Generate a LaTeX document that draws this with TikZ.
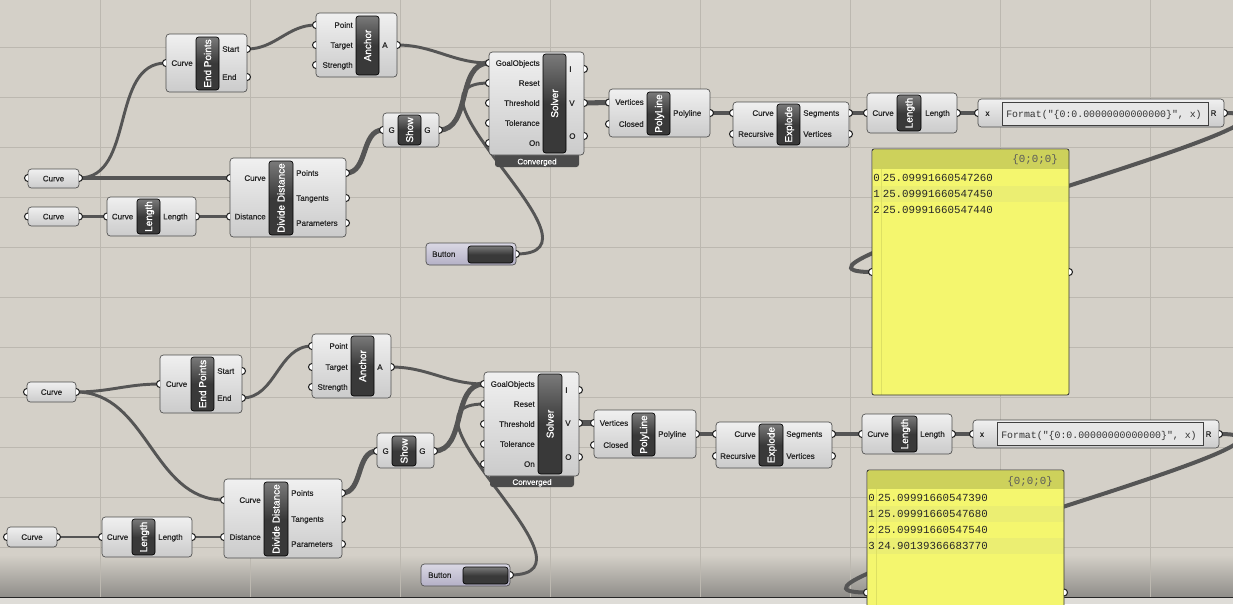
\documentclass[tikz,border=0pt]{standalone}
\usepackage{fontspec}
\usepackage{tikz}
\usepackage{color}
\setmainfont{Liberation Sans}
\newfontfamily\portfont{Liberation Sans}[RawFeature={embolden=0.6}]
\newfontfamily\barfont{Liberation Sans}[RawFeature={embolden=1.2}]
\newfontfamily\monofont{Liberation Mono}
\definecolor{canvas}{HTML}{D4D0C8}
\definecolor{gridcol}{HTML}{BCB8B0}
\definecolor{shadecol}{HTML}{8E8C88}
\definecolor{stripcol}{HTML}{DEDCD7}
\definecolor{wirecol}{HTML}{555555}
\definecolor{bodytop}{HTML}{F0F0F0}
\definecolor{bodybot}{HTML}{CBCBCB}
\definecolor{bodyline}{HTML}{4E4E4E}
\definecolor{bartop}{HTML}{7A7A7A}
\definecolor{barbot}{HTML}{393939}
\definecolor{tabcol}{HTML}{4B4B4B}
\definecolor{btntop}{HTML}{DAD8E4}
\definecolor{btnbot}{HTML}{B4B0C6}
\definecolor{exprfill}{HTML}{E6E6E6}
\definecolor{panelcol}{HTML}{F4F66E}
\definecolor{panelhead}{HTML}{CDD15B}
\definecolor{panelband}{HTML}{EBEE72}
\pgfdeclarelayer{back}
\pgfdeclarelayer{wires}
\pgfsetlayers{back,wires,main}

\begin{document}
\begin{tikzpicture}[x=0.75pt,y=0.75pt,yscale=-1,xscale=1,
  comp/.style={draw=bodyline,line width=0.5,rounded corners=2.5,top color=bodytop,bottom color=bodybot},
  bar/.style={draw=black,line width=0.5,rounded corners=2,top color=bartop,bottom color=barbot,middle color=barbot},
  btn/.style={draw=bodyline,line width=0.5,rounded corners=2.5,top color=btntop,bottom color=btnbot},
  barlbl/.style={rotate=90,text=white,inner sep=0,text height=5.4pt,text depth=0pt,font=\fontsize{7.5}{8}\barfont},
  plbl/.style={inner sep=0,text=black!85,text height=4.3pt,text depth=0pt,font=\fontsize{6}{7}\portfont},
  mono/.style={inner sep=0,text=black!85,text height=5.3pt,text depth=0pt,font=\fontsize{8.1}{9}\monofont},
  grip/.style={draw=black!85,fill=white,line width=0.8},
  wire/.style={draw=wirecol,line width=2.2},
  listwire/.style={wire,line width=3},
  fatwire/.style={wire,line width=3.8},
  panelsep/.style={draw=panelhead!60!panelcol,line width=0.6}]
\path [use as bounding box] (0,0) rectangle (1233,604);

\begin{pgfonlayer}{back}
%Shape: Canvas
\fill [canvas] (0,0) rectangle (1233,604);
\shade [top color=canvas,bottom color=shadecol] (0,555) rectangle (1233,597.5);
%Shape: Grid
\draw [gridcol,line width=0.75] (100,0) -- (100,597) (250,0) -- (250,597) (400,0) -- (400,597) (550,0) -- (550,597)
  (700,0) -- (700,597) (850,0) -- (850,597) (1000,0) -- (1000,597) (1150,0) -- (1150,597);
\draw [gridcol,line width=0.75] (0,47) -- (1233,47) (0,97) -- (1233,97) (0,147) -- (1233,147) (0,197) -- (1233,197)
  (0,247) -- (1233,247) (0,297) -- (1233,297) (0,347) -- (1233,347) (0,397) -- (1233,397)
  (0,447) -- (1233,447) (0,497) -- (1233,497) (0,547) -- (1233,547);
\fill [stripcol] (0,597.5) rectangle (1233,604);
\draw [black!85,line width=0.9] (0,597.5) -- (1233,597.5);
\end{pgfonlayer}

%%%%%%%%%%%%%%%% upper definition %%%%%%%%%%%%%%%%

%Shape: Curve parameter
\draw [comp] (28,169) rectangle (79,188);
\node [plbl] (cA1) at (53.5,178.5) {Curve};
\path (28,178) coordinate (cA1-i) (79,178) coordinate (cA1-o);
\draw [grip] (cA1-i) +(0,3.5) arc (90:270:3.5) (cA1-o) +(0,-3.5) arc (-90:90:3.5);

%Shape: Curve parameter
\draw [comp] (28,207) rectangle (79,226);
\node [plbl] (cA2) at (53.5,216.5) {Curve};
\path (28,216.5) coordinate (cA2-i) (79,216.5) coordinate (cA2-o);
\draw [grip] (cA2-i) +(0,3.5) arc (90:270:3.5) (cA2-o) +(0,-3.5) arc (-90:90:3.5);

%Shape: Length
\draw [comp] (107,197) rectangle (196,236);
\draw [bar] (137,199) rectangle (160,234);
\node [barlbl] (lenA) at (148.5,216.5) {Length};
\node [plbl,anchor=east] (lenA-cl) at (133.5,216.5) {Curve};
\node [plbl,anchor=west] (lenA-ll) at (163,216.5) {Length};
\path (107,216.5) coordinate (lenA-c) (196,216.5) coordinate (lenA-o);
\draw [grip] (lenA-c) +(0,3.5) arc (90:270:3.5) (lenA-o) +(0,-3.5) arc (-90:90:3.5);

%Shape: Divide Distance
\draw [comp] (230,158) rectangle (346,237);
\draw [bar] (269,161) rectangle (293,235);
\node [barlbl] (ddA) at (281,198) {Divide Distance};
\node [plbl,anchor=east] (ddA-cl) at (266,178) {Curve};
\node [plbl,anchor=east] (ddA-dl) at (266,216.5) {Distance};
\node [plbl,anchor=west] (ddA-pl) at (296,173) {Points};
\node [plbl,anchor=west] (ddA-tl) at (296,198) {Tangents};
\node [plbl,anchor=west] (ddA-rl) at (296,223) {Parameters};
\path (230,178) coordinate (ddA-c) (230,216.5) coordinate (ddA-d) (346,173) coordinate (ddA-p)
  (346,198) coordinate (ddA-t) (346,223) coordinate (ddA-r);
\draw [grip] (ddA-c) +(0,3.5) arc (90:270:3.5) (ddA-d) +(0,3.5) arc (90:270:3.5)
  (ddA-p) +(0,-3.5) arc (-90:90:3.5) (ddA-t) +(0,-3.5) arc (-90:90:3.5) (ddA-r) +(0,-3.5) arc (-90:90:3.5);

%Shape: End Points
\draw [comp] (166,34) rectangle (247,92);
\draw [bar] (196,37) rectangle (219,90);
\node [barlbl] (epA) at (207.5,63.5) {End Points};
\node [plbl,anchor=east] (epA-cl) at (193,63) {Curve};
\node [plbl,anchor=west] (epA-sl) at (222,49) {Start};
\node [plbl,anchor=west] (epA-el) at (222,77) {End};
\path (166,63) coordinate (epA-c) (247,49) coordinate (epA-s) (247,77) coordinate (epA-e);
\draw [grip] (epA-c) +(0,3.5) arc (90:270:3.5) (epA-s) +(0,-3.5) arc (-90:90:3.5) (epA-e) +(0,-3.5) arc (-90:90:3.5);

%Shape: Anchor
\draw [comp] (316,13) rectangle (397,77);
\draw [bar] (356,16) rectangle (379,75);
\node [barlbl] (anA) at (367.5,45.5) {Anchor};
\node [plbl,anchor=east] (anA-pl) at (353,25) {Point};
\node [plbl,anchor=east] (anA-tl) at (353,45) {Target};
\node [plbl,anchor=east] (anA-sl) at (353,65) {Strength};
\node [plbl,anchor=west] (anA-al) at (382,45) {A};
\path (316,25) coordinate (anA-p) (316,45) coordinate (anA-t) (316,65) coordinate (anA-s) (397,45) coordinate (anA-a);
\draw [grip] (anA-p) +(0,3.5) arc (90:270:3.5) (anA-t) +(0,3.5) arc (90:270:3.5) (anA-s) +(0,3.5) arc (90:270:3.5)
  (anA-a) +(0,-3.5) arc (-90:90:3.5);

%Shape: Show
\draw [comp] (383,113) rectangle (439,147);
\draw [bar] (398,115) rectangle (421,145);
\node [barlbl] (shA) at (409.5,130) {Show};
\node [plbl,anchor=east] (shA-il) at (395,130) {G};
\node [plbl,anchor=west] (shA-ol) at (424,130) {G};
\path (383,130) coordinate (shA-i) (439,130) coordinate (shA-o);
\draw [grip] (shA-i) +(0,3.5) arc (90:270:3.5) (shA-o) +(0,-3.5) arc (-90:90:3.5);

%Shape: Solver
\fill [tabcol,rounded corners=2] (495,150) rectangle (579,167);
\node [plbl,text=white] (soA-cv) at (537,161.5) {Converged};
\draw [comp] (489,52) rectangle (584,155);
\draw [bar] (543,54) rectangle (566,153);
\node [barlbl] (soA) at (554.5,103.5) {Solver};
\node [plbl,anchor=east] (soA-gl) at (540,63) {GoalObjects};
\node [plbl,anchor=east] (soA-rl) at (540,83) {Reset};
\node [plbl,anchor=east] (soA-hl) at (540,103) {Threshold};
\node [plbl,anchor=east] (soA-tl) at (540,123) {Tolerance};
\node [plbl,anchor=east] (soA-nl) at (540,143) {On};
\node [plbl,anchor=west] (soA-il) at (569,69) {I};
\node [plbl,anchor=west] (soA-vl) at (569,103) {V};
\node [plbl,anchor=west] (soA-ol) at (569,136) {O};
\path (489,63) coordinate (soA-g) (489,83) coordinate (soA-r) (489,103) coordinate (soA-h) (489,123) coordinate (soA-t)
  (489,143) coordinate (soA-n) (584,69) coordinate (soA-i) (584,103) coordinate (soA-v) (584,136) coordinate (soA-o);
\draw [grip] (soA-g) +(0,3.5) arc (90:270:3.5) (soA-r) +(0,3.5) arc (90:270:3.5) (soA-h) +(0,3.5) arc (90:270:3.5)
  (soA-t) +(0,3.5) arc (90:270:3.5) (soA-n) +(0,3.5) arc (90:270:3.5)
  (soA-i) +(0,-3.5) arc (-90:90:3.5) (soA-v) +(0,-3.5) arc (-90:90:3.5) (soA-o) +(0,-3.5) arc (-90:90:3.5);

%Shape: Button
\draw [btn] (426,243) rectangle (516,265);
\draw [bar] (468,246) rectangle (513,263);
\node [plbl,anchor=west] (btA) at (432,254) {Button};
\path (516,254) coordinate (btA-o);
\draw [grip] (btA-o) +(0,-3.5) arc (-90:90:3.5);

%Shape: PolyLine
\draw [comp] (609,89) rectangle (710,137);
\draw [bar] (647,92) rectangle (670,135);
\node [barlbl] (plA) at (658.5,113.5) {PolyLine};
\node [plbl,anchor=east] (plA-vl) at (644,102) {Vertices};
\node [plbl,anchor=east] (plA-cl) at (644,124) {Closed};
\node [plbl,anchor=west] (plA-ol) at (673,113) {Polyline};
\path (609,102.5) coordinate (plA-v) (609,124) coordinate (plA-c) (710,113) coordinate (plA-o);
\draw [grip] (plA-v) +(0,3.5) arc (90:270:3.5) (plA-c) +(0,3.5) arc (90:270:3.5) (plA-o) +(0,-3.5) arc (-90:90:3.5);

%Shape: Explode
\draw [comp] (733,102) rectangle (849,147);
\draw [bar] (777,104) rectangle (800,145);
\node [barlbl] (exA) at (788.5,124.5) {Explode};
\node [plbl,anchor=east] (exA-cl) at (774,113) {Curve};
\node [plbl,anchor=east] (exA-rl) at (774,134) {Recursive};
\node [plbl,anchor=west] (exA-sl) at (803,113) {Segments};
\node [plbl,anchor=west] (exA-vl) at (803,134) {Vertices};
\path (733,113) coordinate (exA-c) (733,134) coordinate (exA-r) (849,113) coordinate (exA-s) (849,134) coordinate (exA-v);
\draw [grip] (exA-c) +(0,3.5) arc (90:270:3.5) (exA-r) +(0,3.5) arc (90:270:3.5)
  (exA-s) +(0,-3.5) arc (-90:90:3.5) (exA-v) +(0,-3.5) arc (-90:90:3.5);

%Shape: Length
\draw [comp] (867,93) rectangle (957,133);
\draw [bar] (897,95) rectangle (921,131);
\node [barlbl] (slA) at (909,113) {Length};
\node [plbl,anchor=east] (slA-cl) at (894,113) {Curve};
\node [plbl,anchor=west] (slA-ll) at (925,113) {Length};
\path (867,113) coordinate (slA-c) (957,113) coordinate (slA-o);
\draw [grip] (slA-c) +(0,3.5) arc (90:270:3.5) (slA-o) +(0,-3.5) arc (-90:90:3.5);

%Shape: Expression
\draw [comp] (978,99) rectangle (1224,127);
\draw [draw=black!75,fill=exprfill,line width=0.6] (1002,102) rectangle (1208,125);
\node [plbl] (xA-xl) at (987.5,113) {x};
\node [plbl] (xA-rl) at (1213.5,113) {R};
\node [mono,font=\fontsize{7.4}{8}\monofont,text=black!80] (xA) at (1104,113.5) {Format("\{0:0.00000000000000\}", x)};
\path (978,113) coordinate (xA-i) (1224,113) coordinate (xA-o);
\draw [grip] (xA-i) +(0,3.5) arc (90:270:3.5) (xA-o) +(0,-3.5) arc (-90:90:3.5);

%Shape: Panel
\fill [panelcol,rounded corners=1.5] (872,149) rectangle (1069,395);
\fill [panelhead] (872.5,149.5) rectangle (1068.5,169);
\fill [panelband] (873,186) rectangle (1068.5,201.5);
\draw [panelsep] (881,169) -- (881,394.5);
\draw [black!80,line width=0.6,rounded corners=1.5] (872,149) rectangle (1069,395);
\node [mono,text=black!65,anchor=east] (pnA-h) at (1058,159) {\{0;0;0\}};
\node [mono] (pnA-n0) at (876.5,178) {0};
\node [mono] (pnA-n1) at (876.5,194) {1};
\node [mono] (pnA-n2) at (876.5,209.5) {2};
\node [mono,anchor=west] (pnA-v0) at (882.5,178) {25.09991660547260};
\node [mono,anchor=west] (pnA-v1) at (882.5,194) {25.09991660547450};
\node [mono,anchor=west] (pnA-v2) at (882.5,209.5) {25.09991660547440};
\path (872,272) coordinate (pnA-i) (1069,272) coordinate (pnA-o);
\draw [grip] (pnA-i) +(0,3.5) arc (90:270:3.5) (pnA-o) +(0,-3.5) arc (-90:90:3.5);

%%%%%%%%%%%%%%%% lower definition %%%%%%%%%%%%%%%%

%Shape: Curve parameter
\draw [comp] (27,382) rectangle (76,402);
\node [plbl] (cB1) at (51.5,392) {Curve};
\path (27,392) coordinate (cB1-i) (76,392) coordinate (cB1-o);
\draw [grip] (cB1-i) +(0,3.5) arc (90:270:3.5) (cB1-o) +(0,-3.5) arc (-90:90:3.5);

%Shape: Curve parameter
\draw [comp] (7,527) rectangle (57,547);
\node [plbl] (cB2) at (32,537) {Curve};
\path (7,537) coordinate (cB2-i) (57,537) coordinate (cB2-o);
\draw [grip] (cB2-i) +(0,3.5) arc (90:270:3.5) (cB2-o) +(0,-3.5) arc (-90:90:3.5);

%Shape: Length
\draw [comp] (102,517) rectangle (192,557);
\draw [bar] (132,519) rectangle (155,555);
\node [barlbl] (lenB) at (143.5,537) {Length};
\node [plbl,anchor=east] (lenB-cl) at (128.5,537) {Curve};
\node [plbl,anchor=west] (lenB-ll) at (158,537) {Length};
\path (102,537) coordinate (lenB-c) (192,537) coordinate (lenB-o);
\draw [grip] (lenB-c) +(0,3.5) arc (90:270:3.5) (lenB-o) +(0,-3.5) arc (-90:90:3.5);

%Shape: Divide Distance
\draw [comp] (224,479) rectangle (342,558);
\draw [bar] (264,482) rectangle (288,556);
\node [barlbl] (ddB) at (276,519) {Divide Distance};
\node [plbl,anchor=east] (ddB-cl) at (261,500) {Curve};
\node [plbl,anchor=east] (ddB-dl) at (261,537) {Distance};
\node [plbl,anchor=west] (ddB-pl) at (291,493) {Points};
\node [plbl,anchor=west] (ddB-tl) at (291,519) {Tangents};
\node [plbl,anchor=west] (ddB-rl) at (291,544) {Parameters};
\path (224,500) coordinate (ddB-c) (224,537) coordinate (ddB-d) (342,493) coordinate (ddB-p)
  (342,519) coordinate (ddB-t) (342,544) coordinate (ddB-r);
\draw [grip] (ddB-c) +(0,3.5) arc (90:270:3.5) (ddB-d) +(0,3.5) arc (90:270:3.5)
  (ddB-p) +(0,-3.5) arc (-90:90:3.5) (ddB-t) +(0,-3.5) arc (-90:90:3.5) (ddB-r) +(0,-3.5) arc (-90:90:3.5);

%Shape: End Points
\draw [comp] (160,355) rectangle (242,413);
\draw [bar] (191,357) rectangle (214,411);
\node [barlbl] (epB) at (202.5,384) {End Points};
\node [plbl,anchor=east] (epB-cl) at (187.5,384) {Curve};
\node [plbl,anchor=west] (epB-sl) at (217,371) {Start};
\node [plbl,anchor=west] (epB-el) at (217,398) {End};
\path (160,384) coordinate (epB-c) (242,371) coordinate (epB-s) (242,398) coordinate (epB-e);
\draw [grip] (epB-c) +(0,3.5) arc (90:270:3.5) (epB-s) +(0,-3.5) arc (-90:90:3.5) (epB-e) +(0,-3.5) arc (-90:90:3.5);

%Shape: Anchor
\draw [comp] (312,334) rectangle (391,398);
\draw [bar] (351,336) rectangle (374,396);
\node [barlbl] (anB) at (362.5,366) {Anchor};
\node [plbl,anchor=east] (anB-pl) at (348,346) {Point};
\node [plbl,anchor=east] (anB-tl) at (348,367) {Target};
\node [plbl,anchor=east] (anB-sl) at (348,387) {Strength};
\node [plbl,anchor=west] (anB-al) at (377,367) {A};
\path (312,346) coordinate (anB-p) (312,367) coordinate (anB-t) (312,387) coordinate (anB-s) (391,367) coordinate (anB-a);
\draw [grip] (anB-p) +(0,3.5) arc (90:270:3.5) (anB-t) +(0,3.5) arc (90:270:3.5) (anB-s) +(0,3.5) arc (90:270:3.5)
  (anB-a) +(0,-3.5) arc (-90:90:3.5);

%Shape: Show
\draw [comp] (377,433) rectangle (434,468);
\draw [bar] (392,436) rectangle (416,466);
\node [barlbl] (shB) at (404,451) {Show};
\node [plbl,anchor=east] (shB-il) at (389,451) {G};
\node [plbl,anchor=west] (shB-ol) at (419,451) {G};
\path (377,451) coordinate (shB-i) (434,451) coordinate (shB-o);
\draw [grip] (shB-i) +(0,3.5) arc (90:270:3.5) (shB-o) +(0,-3.5) arc (-90:90:3.5);

%Shape: Solver
\fill [tabcol,rounded corners=2] (490,471) rectangle (574,487);
\node [plbl,text=white] (soB-cv) at (532,482) {Converged};
\draw [comp] (484,372) rectangle (579,476);
\draw [bar] (538,374) rectangle (562,474);
\node [barlbl] (soB) at (550,424) {Solver};
\node [plbl,anchor=east] (soB-gl) at (535,384) {GoalObjects};
\node [plbl,anchor=east] (soB-rl) at (535,404) {Reset};
\node [plbl,anchor=east] (soB-hl) at (535,424) {Threshold};
\node [plbl,anchor=east] (soB-tl) at (535,444) {Tolerance};
\node [plbl,anchor=east] (soB-nl) at (535,464) {On};
\node [plbl,anchor=west] (soB-il) at (565,390) {I};
\node [plbl,anchor=west] (soB-vl) at (565,423) {V};
\node [plbl,anchor=west] (soB-ol) at (565,457) {O};
\path (484,384) coordinate (soB-g) (484,404) coordinate (soB-r) (484,424) coordinate (soB-h) (484,444) coordinate (soB-t)
  (484,464) coordinate (soB-n) (579,390) coordinate (soB-i) (579,423) coordinate (soB-v) (579,457) coordinate (soB-o);
\draw [grip] (soB-g) +(0,3.5) arc (90:270:3.5) (soB-r) +(0,3.5) arc (90:270:3.5) (soB-h) +(0,3.5) arc (90:270:3.5)
  (soB-t) +(0,3.5) arc (90:270:3.5) (soB-n) +(0,3.5) arc (90:270:3.5)
  (soB-i) +(0,-3.5) arc (-90:90:3.5) (soB-v) +(0,-3.5) arc (-90:90:3.5) (soB-o) +(0,-3.5) arc (-90:90:3.5);

%Shape: Button
\draw [btn] (421,564) rectangle (510,586);
\draw [bar] (463,567) rectangle (508,584);
\node [plbl,anchor=west] (btB) at (428,575) {Button};
\path (510,575) coordinate (btB-o);
\draw [grip] (btB-o) +(0,-3.5) arc (-90:90:3.5);

%Shape: PolyLine
\draw [comp] (594,410) rectangle (696,458);
\draw [bar] (632,413) rectangle (655,456);
\node [barlbl] (plB) at (643.5,434.5) {PolyLine};
\node [plbl,anchor=east] (plB-vl) at (628.5,423) {Vertices};
\node [plbl,anchor=east] (plB-cl) at (628.5,445) {Closed};
\node [plbl,anchor=west] (plB-ol) at (658,434) {Polyline};
\path (594,423) coordinate (plB-v) (594,445) coordinate (plB-c) (696,434) coordinate (plB-o);
\draw [grip] (plB-v) +(0,3.5) arc (90:270:3.5) (plB-c) +(0,3.5) arc (90:270:3.5) (plB-o) +(0,-3.5) arc (-90:90:3.5);

%Shape: Explode
\draw [comp] (716,422) rectangle (832,468);
\draw [bar] (759,424) rectangle (783,466);
\node [barlbl] (exB) at (771,445) {Explode};
\node [plbl,anchor=east] (exB-cl) at (756,434) {Curve};
\node [plbl,anchor=east] (exB-rl) at (756,456) {Recursive};
\node [plbl,anchor=west] (exB-sl) at (786,434) {Segments};
\node [plbl,anchor=west] (exB-vl) at (786,456) {Vertices};
\path (716,434) coordinate (exB-c) (716,456) coordinate (exB-r) (832,434) coordinate (exB-s) (832,456) coordinate (exB-v);
\draw [grip] (exB-c) +(0,3.5) arc (90:270:3.5) (exB-r) +(0,3.5) arc (90:270:3.5)
  (exB-s) +(0,-3.5) arc (-90:90:3.5) (exB-v) +(0,-3.5) arc (-90:90:3.5);

%Shape: Length
\draw [comp] (862,414) rectangle (952,454);
\draw [bar] (892,416) rectangle (917,452);
\node [barlbl] (slB) at (904.5,434) {Length};
\node [plbl,anchor=east] (slB-cl) at (889,434) {Curve};
\node [plbl,anchor=west] (slB-ll) at (920,434) {Length};
\path (862,434) coordinate (slB-c) (952,434) coordinate (slB-o);
\draw [grip] (slB-c) +(0,3.5) arc (90:270:3.5) (slB-o) +(0,-3.5) arc (-90:90:3.5);

%Shape: Expression
\draw [comp] (973,420) rectangle (1219,448);
\draw [draw=black!75,fill=exprfill,line width=0.6] (997,422.5) rectangle (1203,445.5);
\node [plbl] (xB-xl) at (982,434) {x};
\node [plbl] (xB-rl) at (1208.5,434) {R};
\node [mono,font=\fontsize{7.4}{8}\monofont,text=black!80] (xB) at (1099,434.5) {Format("\{0:0.00000000000000\}", x)};
\path (973,434) coordinate (xB-i) (1219,434) coordinate (xB-o);
\draw [grip] (xB-i) +(0,3.5) arc (90:270:3.5) (xB-o) +(0,-3.5) arc (-90:90:3.5);

%Shape: Panel
\fill [panelcol,rounded corners=1.5] (867,470) rectangle (1064,612);
\fill [panelhead] (867.5,470.5) rectangle (1063.5,489);
\fill [panelband] (868,506) rectangle (1063.5,522);
\fill [panelband] (868,538) rectangle (1063.5,554);
\draw [panelsep] (876.5,489) -- (876.5,612);
\draw [black!80,line width=0.6,rounded corners=1.5] (867,470) rectangle (1064,612);
\node [mono,text=black!65,anchor=east] (pnB-h) at (1053,480.5) {\{0;0;0\}};
\node [mono] (pnB-n0) at (871.5,498) {0};
\node [mono] (pnB-n1) at (871.5,514) {1};
\node [mono] (pnB-n2) at (871.5,530) {2};
\node [mono] (pnB-n3) at (871.5,546) {3};
\node [mono,anchor=west] (pnB-v0) at (877.5,498) {25.09991660547390};
\node [mono,anchor=west] (pnB-v1) at (877.5,514) {25.09991660547680};
\node [mono,anchor=west] (pnB-v2) at (877.5,530) {25.09991660547540};
\node [mono,anchor=west] (pnB-v3) at (877.5,546) {24.90139366683770};
\path (867,592.5) coordinate (pnB-i) (1064,592.5) coordinate (pnB-o);
\draw [grip] (pnB-i) +(0,3.5) arc (90:270:3.5) (pnB-o) +(0,-3.5) arc (-90:90:3.5);

%%%%%%%%%%%%%%%% wires %%%%%%%%%%%%%%%%
\begin{pgfonlayer}{wires}
\draw [wire] (cA1-o) to[out=0,in=180] (epA-c);
\draw [listwire] (cA1-o) -- (ddA-c);
\draw [wire] (cA2-o) -- (lenA-c);
\draw [wire] (lenA-o) -- (ddA-d);
\draw [wire] (epA-s) to[out=0,in=180] (anA-p);
\draw [wire] (anA-a) to[out=0,in=180] (soA-g);
\draw [fatwire] (ddA-p) to[out=0,in=180] (shA-i);
\draw [fatwire] (shA-o) to[out=0,in=180] (soA-g);
\draw [wire] (btA-o) to[out=0,in=180,looseness=1.5] (soA-r);
\draw [fatwire] (soA-v) -- (plA-v);
\draw [listwire] (plA-o) -- (exA-c);
\draw [listwire] (exA-s) -- (slA-c);
\draw [listwire] (slA-o) -- (xA-i);
\draw [listwire] (xA-o) to[out=0,in=180,looseness=0.95] (pnA-i);

\draw [wire] (cB1-o) to[out=0,in=180] (epB-c);
\draw [wire] (cB1-o) to[out=0,in=180] (ddB-c);
\draw [wire] (cB2-o) -- (lenB-c);
\draw [wire] (lenB-o) -- (ddB-d);
\draw [wire] (epB-e) to[out=0,in=180] (anB-p);
\draw [wire] (anB-a) to[out=0,in=180] (soB-g);
\draw [fatwire] (ddB-p) to[out=0,in=180] (shB-i);
\draw [fatwire] (shB-o) to[out=0,in=180] (soB-g);
\draw [wire] (btB-o) to[out=0,in=180,looseness=1.5] (soB-r);
\draw [fatwire] (soB-v) -- (plB-v);
\draw [listwire] (plB-o) -- (exB-c);
\draw [listwire] (exB-s) -- (slB-c);
\draw [listwire] (slB-o) -- (xB-i);
\draw [listwire] (xB-o) to[out=0,in=180,looseness=0.95] (pnB-i);
\end{pgfonlayer}

\end{tikzpicture}
\end{document}
